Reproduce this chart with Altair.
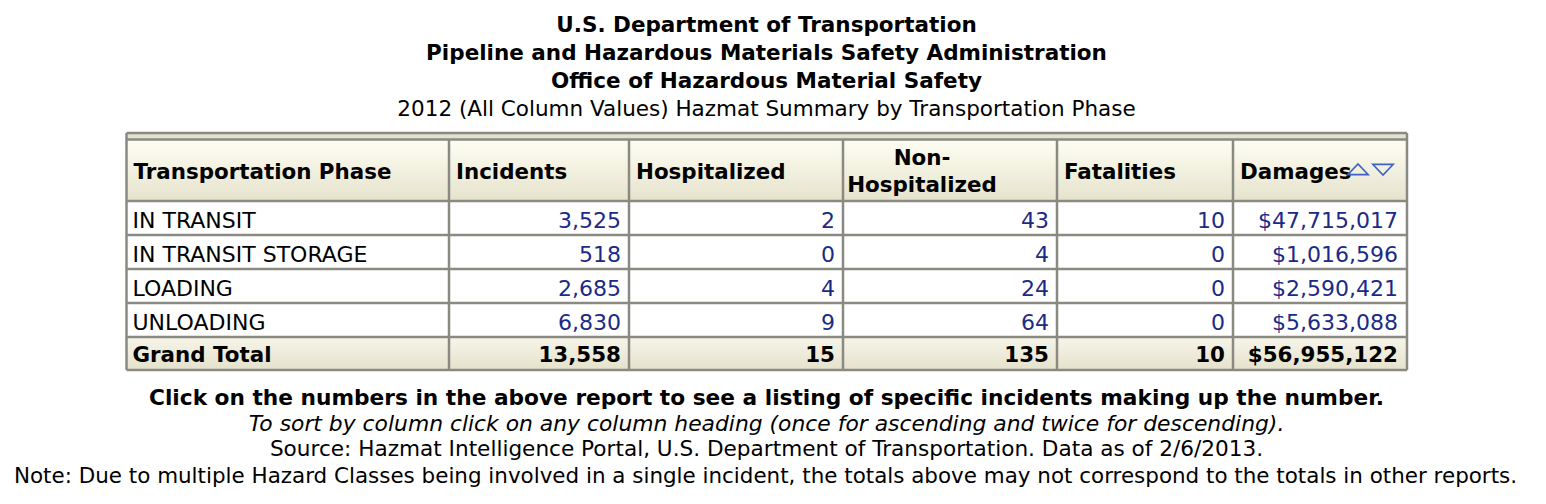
import altair as alt
import pandas as pd

# ---------------- data ----------------
phases = ["IN TRANSIT", "IN TRANSIT STORAGE", "LOADING", "UNLOADING"]
incidents = [3525, 518, 2685, 6830]
hospitalized = [2, 0, 4, 9]
non_hospitalized = [43, 4, 24, 64]
fatalities = [10, 0, 0, 0]
damages = [47715017, 1016596, 2590421, 5633088]
total_label = "Grand Total"
header_labels = ["Transportation Phase", "Incidents", "Hospitalized",
                 "Non-\nHospitalized", "Fatalities", "Damages"]
title_lines = ["U.S. Department of Transportation",
               "Pipeline and Hazardous Materials Safety Administration",
               "Office of Hazardous Material Safety"]
subtitle = "2012 (All Column Values) Hazmat Summary by Transportation Phase"
footer_bold = "Click on the numbers in the above report to see a listing of specific incidents making up the number."
footer_italic = "To sort by column click on any column heading (once for ascending and twice for descending)."
footer_plain = ["Source: Hazmat Intelligence Portal, U.S. Department of Transportation. Data as of 2/6/2013.",
                "Note: Due to multiple Hazard Classes being involved in a single incident, the totals above may not correspond to the totals in other reports."]

# ---------------- layout ----------------
W, H = 1530, 488
col_edges = [126.5, 449, 629, 843, 1057, 1233, 1407]
row_edges = [139.5, 201, 235, 269, 303, 337, 370]
outer_top = 133
cx = 766.5
FONT = "DejaVu Sans"
FS_BODY = 22
FS_HEAD = 21.4
FS_TITLE = 21.5
BLUE = "#1b2b85"
GRID = "#8a8a82"
DY = 1.5

xs = alt.Scale(domain=[8, 8 + W], nice=False, zero=False)
ys = alt.Scale(domain=[8, 8 + H], nice=False, zero=False, reverse=True)


def X(f="x"):
    return alt.X(f"{f}:Q", scale=xs, axis=None)


def Y(f="y"):
    return alt.Y(f"{f}:Q", scale=ys, axis=None)


grad_head = alt.Gradient(gradient="linear",
                         stops=[alt.GradientStop(color="#fdfdf3", offset=0),
                                alt.GradientStop(color="#e6e3cc", offset=1)],
                         x1=0, x2=0, y1=0, y2=1)
grad_total = alt.Gradient(gradient="linear",
                          stops=[alt.GradientStop(color="#f7f5e9", offset=0),
                                 alt.GradientStop(color="#e4e1cb", offset=1)],
                          x1=0, x2=0, y1=0, y2=1)

ncol = len(header_labels)
lefts, rights = col_edges[:-1], col_edges[1:]


def rect_layer(df, color):
    return alt.Chart(df).mark_rect(color=color).encode(x=X(), x2="x2", y=Y(), y2="y2")


band = rect_layer(pd.DataFrame({"x": [col_edges[0]], "x2": [col_edges[-1]],
                                "y": [outer_top], "y2": [row_edges[0]]}), "#e3e1d0")
head_rects = rect_layer(pd.DataFrame({"x": lefts, "x2": rights,
                                      "y": [row_edges[0]] * ncol, "y2": [row_edges[1]] * ncol}), grad_head)
total_rects = rect_layer(pd.DataFrame({"x": lefts, "x2": rights,
                                       "y": [row_edges[5]] * ncol, "y2": [row_edges[6]] * ncol}), grad_total)
body_rects = rect_layer(pd.DataFrame({"x": [col_edges[0]], "x2": [col_edges[-1]],
                                      "y": [row_edges[1]], "y2": [row_edges[5]]}), "white")

vlines = alt.Chart(pd.DataFrame({
    "x": col_edges,
    "y": [outer_top if i in (0, len(col_edges) - 1) else row_edges[0] for i in range(len(col_edges))],
    "y2": [row_edges[-1]] * len(col_edges)})
).mark_rule(color=GRID, strokeWidth=2.5).encode(x=X(), y=Y(), y2="y2")

hlines = alt.Chart(pd.DataFrame({
    "y": [outer_top] + row_edges,
    "x": [col_edges[0]] * (len(row_edges) + 1),
    "x2": [col_edges[-1]] * (len(row_edges) + 1)})
).mark_rule(color=GRID, strokeWidth=2.5).encode(x=X(), x2="x2", y=Y())


def text_layer(df, align, size, color="black", weight="normal", style="normal", fmt=None):
    if fmt is None:
        t = alt.Text("t:N")
    else:
        t = alt.Text("v:Q", format=fmt)
    return alt.Chart(df).mark_text(align=align, baseline="middle", font=FONT, fontSize=size,
                                   fontWeight=weight, fontStyle=style, color=color
                                   ).encode(x=X(), y=Y(), text=t)


# header texts
head_single = [(lefts[i] + 7, header_labels[i]) for i in range(ncol) if "\n" not in header_labels[i]]
head_txt = text_layer(pd.DataFrame({"x": [h[0] for h in head_single],
                                    "y": [171 + DY] * len(head_single),
                                    "t": [h[1] for h in head_single]}), "left", FS_HEAD, weight="bold")
multi = [h for h in header_labels if "\n" in h][0].split("\n")
head_multi = text_layer(pd.DataFrame({"x": [922] * len(multi), "y": [157 + DY, 184 + DY][:len(multi)],
                                      "t": multi}), "center", FS_HEAD, weight="bold")

# sort icons
tri_up = "M-1,0.5L1,0.5L0,-0.55Z"
tri_dn = "M-1,-0.5L1,-0.5L0,0.55Z"
icons_up = alt.Chart(pd.DataFrame({"x": [1358], "y": [169.5]})).mark_point(
    shape=tri_up, size=420, filled=False, color="#3f62c4", strokeWidth=1.6, opacity=1
).encode(x=X(), y=Y())
icons_dn = alt.Chart(pd.DataFrame({"x": [1383], "y": [169.5]})).mark_point(
    shape=tri_dn, size=420, filled=False, color="#3f62c4", strokeWidth=1.6, opacity=1
).encode(x=X(), y=Y())

# body
row_c = [(row_edges[i] + row_edges[i + 1]) / 2 + 1 + DY for i in range(1, 5)]
phase_txt = text_layer(pd.DataFrame({"x": [lefts[0] + 6] * 4, "y": row_c, "t": phases}), "left", FS_BODY)

count_cols = [incidents, hospitalized, non_hospitalized, fatalities]
cnt_rows = []
for ci, vals in enumerate(count_cols):
    for ri, v in enumerate(vals):
        cnt_rows.append({"x": rights[ci + 1] - 8, "y": row_c[ri], "v": v})
cnt_txt = text_layer(pd.DataFrame(cnt_rows), "right", FS_BODY, color=BLUE, fmt=",d")
dmg_txt = text_layer(pd.DataFrame({"x": [rights[5] - 9] * 4, "y": row_c, "v": damages}),
                     "right", FS_BODY, color=BLUE, fmt="$,d")

# totals
ty = (row_edges[5] + row_edges[6]) / 2 + 1 + DY
tot_label = text_layer(pd.DataFrame({"x": [lefts[0] + 6], "y": [ty], "t": [total_label]}),
                       "left", FS_HEAD, weight="bold")
tot_cnt = text_layer(pd.DataFrame({"x": [rights[i] - 8 for i in range(1, 5)], "y": [ty] * 4,
                                   "v": [sum(c) for c in count_cols]}),
                     "right", FS_HEAD, weight="bold", fmt=",d")
tot_dmg = text_layer(pd.DataFrame({"x": [rights[5] - 9], "y": [ty], "v": [sum(damages)]}),
                     "right", FS_HEAD, weight="bold", fmt="$,d")

# titles
titles = text_layer(pd.DataFrame({"x": [cx] * 3, "y": [24 + DY, 52 + DY, 80 + DY], "t": title_lines}),
                    "center", FS_TITLE, weight="bold")
sub = text_layer(pd.DataFrame({"x": [cx], "y": [108 + DY], "t": [subtitle]}), "center", 21.5)

# footers
f_bold = text_layer(pd.DataFrame({"x": [cx], "y": [396 + DY], "t": [footer_bold]}),
                    "center", 21.7, weight="bold")
f_ital = text_layer(pd.DataFrame({"x": [cx], "y": [422 + DY], "t": [footer_italic]}),
                    "center", 21.85, style="italic")
f_src = text_layer(pd.DataFrame({"x": [cx], "y": [448 + DY], "t": [footer_plain[0]]}),
                   "center", 21.6)
f_note = text_layer(pd.DataFrame({"x": [765.5], "y": [475 + DY], "t": [footer_plain[1]]}),
                    "center", 21.45)

chart = alt.layer(
    band, head_rects, body_rects, total_rects, vlines, hlines,
    head_txt, head_multi, icons_up, icons_dn,
    phase_txt, cnt_txt, dmg_txt, tot_label, tot_cnt, tot_dmg,
    titles, sub, f_bold, f_ital, f_src, f_note
).properties(
    width=W, height=H, padding=0, background="white",
    autosize=alt.AutoSizeParams(type="none")
).configure_view(strokeWidth=0)

chart.save("out.html", embed_options={"renderer": "svg", "actions": False})
